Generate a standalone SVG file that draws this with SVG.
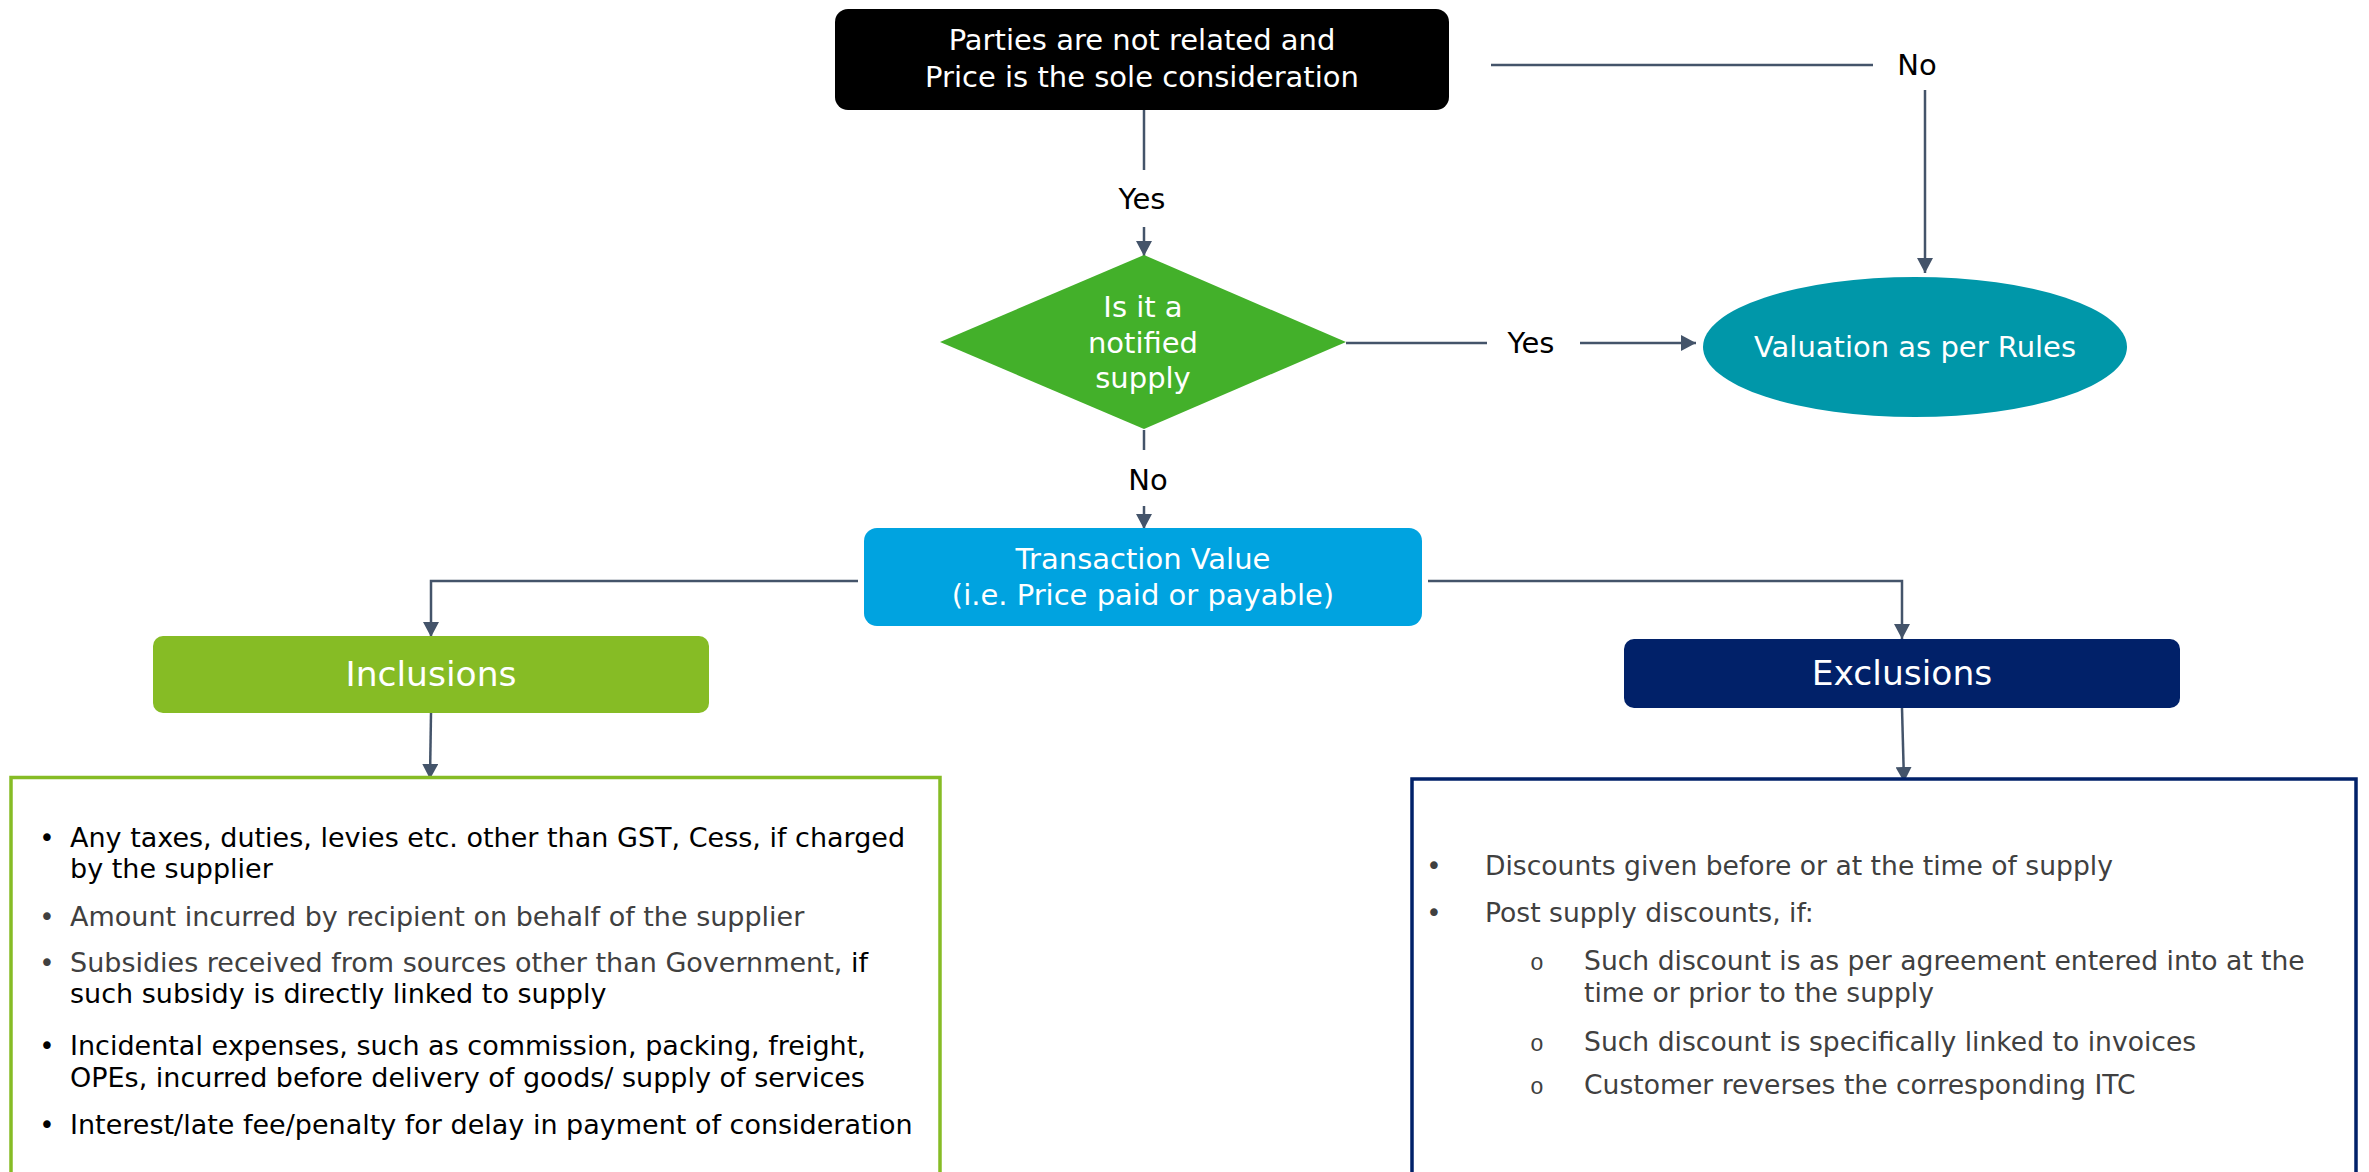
<svg xmlns="http://www.w3.org/2000/svg" width="2369" height="1172" viewBox="0 0 2369 1172">
<style>
text{font-family:"DejaVu Sans","Verdana",sans-serif}
.w{fill:#ffffff;text-anchor:middle;font-size:29px}
.lbl{fill:#000000;text-anchor:middle;font-size:29px}
.hd{fill:#ffffff;text-anchor:middle;font-size:34.5px}
.li{font-size:27px}
.ri{font-size:26.6px}
.k{fill:#000000}
.g{fill:#404040}
.bul{text-anchor:middle;font-size:26px}
.sub{font-family:"Liberation Mono",monospace;font-size:23px;text-anchor:middle;fill:#404040}
.c{fill:none;stroke:#44546A;stroke-width:2.5}
</style>
<defs>
<marker id="ah" viewBox="0 0 15 16" refX="15" refY="8" markerWidth="15" markerHeight="16" orient="auto" markerUnits="userSpaceOnUse">
<path d="M0,0 L15,8 L0,16 Z" fill="#44546A"/>
</marker>
</defs>
<g id="connectors">
<line class="c" x1="1491" y1="65" x2="1873" y2="65"/>
<text class="lbl" x="1917" y="75">No</text>
<line class="c" x1="1925" y1="90" x2="1925" y2="273" marker-end="url(#ah)"/>
<line class="c" x1="1144" y1="110" x2="1144" y2="170"/>
<text class="lbl" x="1142" y="209">Yes</text>
<line class="c" x1="1144" y1="227" x2="1144" y2="256" marker-end="url(#ah)"/>
<line class="c" x1="1346" y1="343" x2="1487" y2="343"/>
<text class="lbl" x="1531" y="353">Yes</text>
<line class="c" x1="1580" y1="343" x2="1696" y2="343" marker-end="url(#ah)"/>
<line class="c" x1="1144" y1="430" x2="1144" y2="450"/>
<text class="lbl" x="1148" y="490">No</text>
<line class="c" x1="1144" y1="506" x2="1144" y2="529" marker-end="url(#ah)"/>
<polyline class="c" points="858,581 431,581 431,637" marker-end="url(#ah)"/>
<polyline class="c" points="1428,581 1902,581 1902,639" marker-end="url(#ah)"/>
<line class="c" x1="431" y1="713" x2="430" y2="779" marker-end="url(#ah)"/>
<line class="c" x1="1902" y1="708" x2="1904" y2="782" marker-end="url(#ah)"/>
</g>
<g id="start">
<rect x="835" y="9" width="614" height="101" rx="13" fill="#000000"/>
<text class="w" x="1142" y="50">Parties are not related and</text>
<text class="w" x="1142" y="87">Price is the sole consideration</text>
</g>
<g id="decision">
<polygon points="1144,255 1346,342 1144,429 940,342" fill="#43B02A"/>
<text class="w" x="1143" y="317" font-size="28">Is it a</text>
<text class="w" x="1143" y="353" font-size="28">notified</text>
<text class="w" x="1143" y="388" font-size="28">supply</text>
</g>
<g id="rules">
<ellipse cx="1915" cy="347" rx="212" ry="70" fill="#0097A9"/>
<text class="w" x="1915" y="357">Valuation as per Rules</text>
</g>
<g id="transaction">
<rect x="864" y="528" width="558" height="98" rx="13" fill="#00A3E0"/>
<text class="w" x="1143" y="569" font-size="30">Transaction Value</text>
<text class="w" x="1143" y="605" font-size="30">(i.e. Price paid or payable)</text>
</g>
<g id="inclusions">
<rect x="153" y="636" width="556" height="77" rx="10" fill="#86BC25"/>
<text class="hd" x="431" y="686">Inclusions</text>
</g>
<g id="exclusions">
<rect x="1624" y="639" width="556" height="69" rx="10" fill="#012169"/>
<text class="hd" x="1902" y="685">Exclusions</text>
</g>
<g id="inclusions-list">
<path d="M11,1180 L11,777.5 L940,777.5 L940,1180" fill="#ffffff" stroke="#86BC25" stroke-width="3.5"/>
<text class="bul k" x="47" y="847">•</text>
<text class="li k" x="70" y="847">Any taxes, duties, levies etc. other than GST, Cess, if charged</text>
<text class="li k" x="70" y="878">by the supplier</text>
<text class="bul g" x="47" y="926">•</text>
<text class="li g" x="70" y="926">Amount incurred by recipient on behalf of the supplier</text>
<text class="bul g" x="47" y="972">•</text>
<text class="li g" x="70" y="972">Subsidies received from sources other than Government, <tspan class="k">if</tspan></text>
<text class="li k" x="70" y="1003">such subsidy is directly linked to supply</text>
<text class="bul k" x="47" y="1055">•</text>
<text class="li k" x="70" y="1055">Incidental expenses, such as commission, packing, freight,</text>
<text class="li k" x="70" y="1087">OPEs, incurred before delivery of goods/ supply of services</text>
<text class="bul k" x="47" y="1134">•</text>
<text class="li k" x="70" y="1134">Interest/late fee/penalty for delay in payment of consideration</text>
</g>
<g id="exclusions-list">
<path d="M1412,1180 L1412,779 L2356,779 L2356,1180" fill="#ffffff" stroke="#012169" stroke-width="3.5"/>
<text class="bul g" x="1434" y="875" font-size="22">•</text>
<text class="ri g" x="1485" y="875">Discounts given before or at the time of supply</text>
<text class="bul g" x="1434" y="922" font-size="22">•</text>
<text class="ri g" x="1485" y="922">Post supply discounts, if:</text>
<text class="sub" x="1537" y="970">o</text>
<text class="ri g" x="1584" y="970">Such discount is as per agreement entered into at the</text>
<text class="ri g" x="1584" y="1002">time or prior to the supply</text>
<text class="sub" x="1537" y="1051">o</text>
<text class="ri g" x="1584" y="1051">Such discount is specifically linked to invoices</text>
<text class="sub" x="1537" y="1094">o</text>
<text class="ri g" x="1584" y="1094">Customer reverses the corresponding ITC</text>
</g>
</svg>
